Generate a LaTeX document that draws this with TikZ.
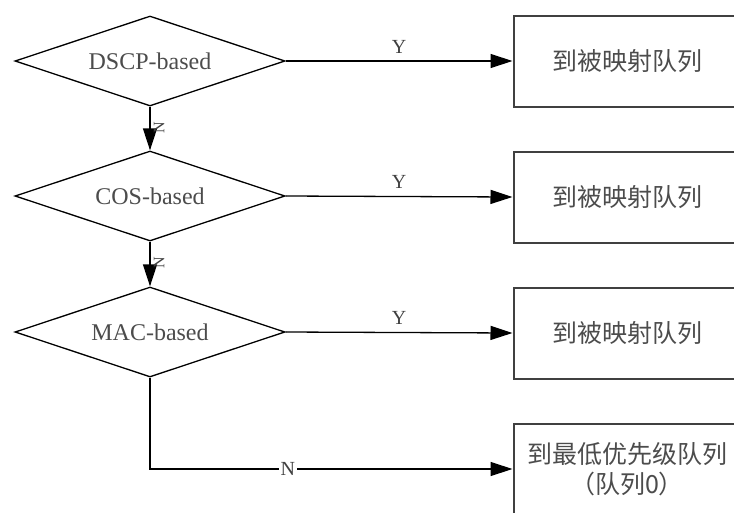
\documentclass[tikz,border=0pt]{standalone}
\usepackage{fontspec}
\setmainfont{Liberation Serif}
\newfontfamily\cjk{Noto Sans CJK SC}
\usetikzlibrary{shapes.geometric,arrows.meta}
\begin{document}
\begin{tikzpicture}[x=1pt,y=-1pt,>={Triangle[length=22pt,width=14pt]},
  decision/.style={diamond,aspect=3,draw,line width=1.3pt,minimum width=270pt,minimum height=90pt,inner sep=0pt,font=\fontsize{24}{28}\selectfont,text=black!70},
  qbox/.style={rectangle,draw=black!75,line width=2pt,minimum width=227pt,minimum height=91pt,font=\cjk\fontsize{25}{30}\selectfont,text=black!70,align=center},
  lbl/.style={font=\fontsize{20}{22}\selectfont,text=black!75}]
\useasboundingbox (0,0) rectangle (734,512);
\node[decision] (dscp) at (150,61) {DSCP-based};
\node[decision] (cos) at (150,196) {COS-based};
\node[decision] (mac) at (150,332) {MAC-based};
\node[qbox] (q1) at (627,61) {到被映射队列};
\node[qbox] (q2) at (627,197) {到被映射队列};
\node[qbox] (q3) at (627,333) {到被映射队列};
\node[qbox] (q4) at (627,469) {到最低优先级队列\\（队列0）};

\foreach \d/\q in {dscp/q1,cos/q2,mac/q3}
{
    \draw[->,line width=1.3pt](\d.east)--node[lbl,above,yshift=4pt]{Y}(\q.west);
}
\foreach \a/\b in {dscp/cos,cos/mac}
{
    \draw[->,line width=1.3pt](\a.south)--node[lbl,pos=0.48,rotate=90,anchor=north,font=\fontsize{16}{18}\selectfont]{N}(\b.north);
}
\draw[->,line width=1.3pt](mac.south)|-node[lbl,pos=0.69,fill=white,inner sep=2pt]{N}(q4.west);
\end{tikzpicture}
\end{document}
